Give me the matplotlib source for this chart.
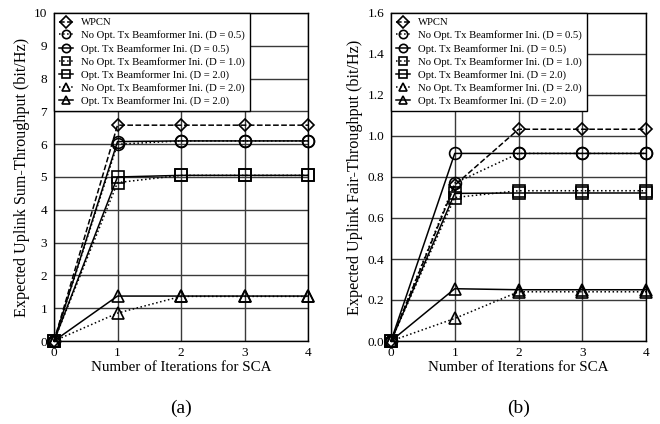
import matplotlib
matplotlib.use("Agg")
import matplotlib.pyplot as plt

plt.rcParams['font.family'] = ['Liberation Serif', 'DejaVu Serif']

iterations = [0, 1, 2, 3, 4]

labels = [
    "WPCN",
    "No Opt. Tx Beamformer Ini. (D = 0.5)",
    "Opt. Tx Beamformer Ini. (D = 0.5)",
    "No Opt. Tx Beamformer Ini. (D = 1.0)",
    "Opt. Tx Beamformer Ini. (D = 2.0)",
    "No Opt. Tx Beamformer Ini. (D = 2.0)",
    "Opt. Tx Beamformer Ini. (D = 2.0)",
]

# (a) sum-throughput
sum_wpcn = [0, 6.58, 6.58, 6.58, 6.58]
sum_noopt_05 = [0, 6.00, 6.10, 6.10, 6.10]
sum_opt_05 = [0, 6.08, 6.10, 6.10, 6.10]
sum_noopt_10 = [0, 4.83, 5.05, 5.05, 5.05]
sum_opt_20 = [0, 5.00, 5.05, 5.05, 5.05]
sum_noopt_20 = [0, 0.85, 1.36, 1.36, 1.36]
sum_opt_20b = [0, 1.37, 1.37, 1.37, 1.37]

# (b) fair-throughput
fair_wpcn = [0, 0.76, 1.033, 1.033, 1.033]
fair_noopt_05 = [0, 0.77, 0.915, 0.915, 0.915]
fair_opt_05 = [0, 0.915, 0.915, 0.915, 0.915]
fair_noopt_10 = [0, 0.70, 0.733, 0.733, 0.733]
fair_opt_20 = [0, 0.72, 0.722, 0.722, 0.722]
fair_noopt_20 = [0, 0.11, 0.24, 0.24, 0.24]
fair_opt_20b = [0, 0.255, 0.25, 0.25, 0.25]

markers = ['D', 'o', 'o', 's', 's', '^', '^']
styles = ['--', ':', '-', ':', '-', ':', '-']
msizes = [6, 8.5, 8.5, 8.5, 8.5, 9, 9]

fig = plt.figure(figsize=(6.6, 4.24), dpi=100)
ax1 = fig.add_axes([54/660, 1-341/424, (308-54)/660, (341-13)/424])
ax2 = fig.add_axes([391/660, 1-341/424, (646-391)/660, (341-13)/424])

def draw(ax, series, ymax, yticks, ylabels, ylabel, tag):
    for s, lab, m, ls, ms in zip(series, labels, markers, styles, msizes):
        ax.plot(iterations, s, linestyle=ls, color='black', linewidth=1.1,
                marker=m, markersize=ms, markerfacecolor='none',
                markeredgecolor='black', markeredgewidth=1.2,
                label=lab, clip_on=False, zorder=3)
    ax.set_xlim(0, 4)
    ax.set_ylim(0, ymax)
    ax.set_xticks([0, 1, 2, 3, 4])
    ax.set_yticks(yticks)
    ax.set_yticklabels(ylabels)
    ax.grid(True, color='#3a3a3a', linewidth=1.0)
    ax.set_axisbelow(True)
    ax.tick_params(direction='in', length=0, labelsize=9.5)
    ax.tick_params(axis='x', pad=4)
    ax.tick_params(axis='y', pad=5)
    for sp in ax.spines.values():
        sp.set_linewidth(1.0)
    ax.set_xlabel("Number of Iterations for SCA", fontsize=10.8, labelpad=2)
    ax.set_ylabel(ylabel, fontsize=11.6, labelpad=3)
    leg = ax.legend(loc='upper left', fontsize=7.7, handlelength=1.3,
                    handletextpad=0.8, borderpad=0.45, labelspacing=0.3,
                    borderaxespad=0.0, fancybox=False, framealpha=1,
                    edgecolor='black')
    leg.get_frame().set_linewidth(1.0)
    for h in leg.legend_handles:
        h.set_markersize(6)
    ax.text(0.5, -0.205, tag, transform=ax.transAxes, ha='center', va='center', fontsize=14)

draw(ax1, [sum_wpcn, sum_noopt_05, sum_opt_05, sum_noopt_10, sum_opt_20, sum_noopt_20, sum_opt_20b],
     10, list(range(11)), [str(i) for i in range(11)],
     "Expected Uplink Sum-Throughput (bit/Hz)", "(a)")
draw(ax2, [fair_wpcn, fair_noopt_05, fair_opt_05, fair_noopt_10, fair_opt_20, fair_noopt_20, fair_opt_20b],
     1.6, [0, 0.2, 0.4, 0.6, 0.8, 1.0, 1.2, 1.4, 1.6],
     ["0.0", "0.2", "0.4", "0.6", "0.8", "1.0", "1.2", "1.4", "1.6"],
     "Expected Uplink Fair-Throughput (bit/Hz)", "(b)")

fig.savefig("out.png", dpi=100)
